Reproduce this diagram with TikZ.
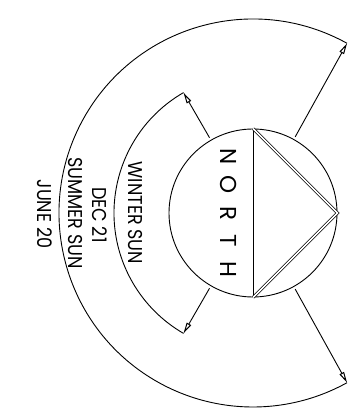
\documentclass[tikz,border=0pt]{standalone}
\usepackage{fontspec}
\setmainfont{Poppins}
\newfontfamily\sunfont[FakeStretch=0.88]{Poppins}
\usetikzlibrary{arrows.meta}
\begin{document}
\begin{tikzpicture}[x=1pt, y=1pt, line width=0.9pt,
    ray/.style={-{Triangle[open, length=11pt, width=5pt, line width=1pt]}},
    sunlbl/.style={rotate=-90, inner sep=0pt, font=\sunfont\fontsize{20}{24}\selectfont},
    ntxt/.style={rotate=-90, inner sep=0pt, font=\fontsize{23}{26}\selectfont}]
  \useasboundingbox (0,0) rectangle (348,416);
  \coordinate (c) at (253,203);
  \node[circle, draw, minimum size=168pt, inner sep=0pt] (disc) at (c) {};
  % north arrow
  \draw (disc.north) -- (disc.south);
  \draw[double, double distance=1.5pt, line width=0.7pt, line join=miter]
    (disc.north) -- (disc.east) -- (disc.south);
  \foreach \l [count=\k] in {N,O,R,T,H}
    \node[ntxt] (n\k) at (229,287-28*\k) {\l};
  % sun rays
  \foreach \a/\r in {61/194, 120/139, 240/139, 299/194} {
    \coordinate (s\a) at ([shift={(\a:87)}]c);
    \coordinate (e\a) at ([shift={(\a:\r)}]c);
    \draw[ray] (s\a) -- (e\a);
  }
  \draw (e61) arc[start angle=61, end angle=299, radius=194];
  \draw (e120) arc[start angle=120, end angle=240, radius=139];
  % labels
  \node[sunlbl] (winter) at (135,203) {WINTER SUN};
  \node[sunlbl] (dec)    at (100,201) {DEC 21};
  \node[sunlbl] (summer) at (75,203)  {SUMMER SUN};
  \node[sunlbl] (june)   at (45,202)  {JUNE 20};
\end{tikzpicture}
\end{document}
